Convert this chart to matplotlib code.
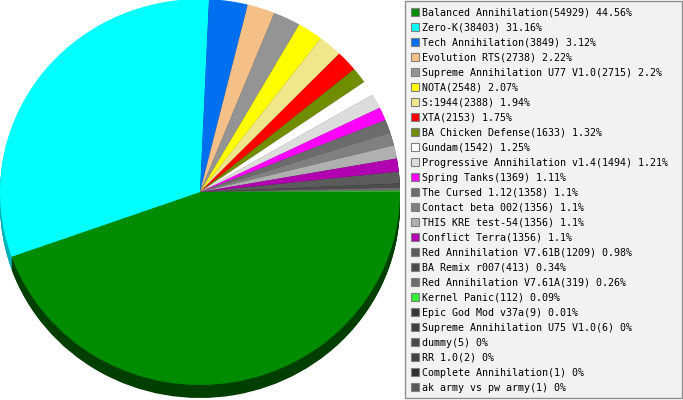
import numpy as np
import matplotlib
matplotlib.use("Agg")
import matplotlib.pyplot as plt
from matplotlib.colors import to_rgb
from matplotlib.patches import Rectangle

# --- data ---
names = [
    "Balanced Annihilation", "Zero-K", "Tech Annihilation", "Evolution RTS",
    "Supreme Annihilation U77 V1.0", "NOTA", "S:1944", "XTA", "BA Chicken Defense",
    "Gundam", "Progressive Annihilation v1.4", "Spring Tanks", "The Cursed 1.12",
    "Contact beta 002", "THIS KRE test-54", "Conflict Terra", "Red Annihilation V7.61B",
    "BA Remix r007", "Red Annihilation V7.61A", "Kernel Panic", "Epic God Mod v37a",
    "Supreme Annihilation U75 V1.0", "dummy", "RR 1.0", "Complete Annihilation",
    "ak army vs pw army",
]
counts = [54929, 38403, 3849, 2738, 2715, 2548, 2388, 2153, 1633, 1542, 1494, 1369,
          1358, 1356, 1356, 1356, 1209, 413, 319, 112, 9, 6, 5, 2, 1, 1]
pct_text = ["44.56", "31.16", "3.12", "2.22", "2.2", "2.07", "1.94", "1.75", "1.32",
            "1.25", "1.21", "1.11", "1.1", "1.1", "1.1", "1.1", "0.98", "0.34", "0.26",
            "0.09", "0.01", "0", "0", "0", "0", "0"]
colors = ["#008c00", "#00ffff", "#0070f0", "#f4c088", "#949494", "#ffff00", "#f0e68c",
          "#ff0000", "#708c00", "#ffffff", "#dcdcdc", "#ff00ff", "#6c6c6c", "#808080",
          "#b0b0b0", "#b000b0", "#5c5c5c", "#4c4c4c", "#6c6c6c", "#30f030", "#383838",
          "#404040", "#484848", "#404040", "#303030", "#585858"]

W, H = 683, 400
fig = plt.figure(figsize=(W / 100, H / 100), dpi=100)
fig.patch.set_facecolor("white")

# pie axes: left 400 px, slightly elliptical pie with a dark extruded side
cx, cy, rx, ry, depth = 200, 192, 200, 193, 13
pax = fig.add_axes([0, 0, 400 / W, 1])
side_colors = [tuple(c * 0.45 for c in to_rgb(col)) for col in colors]
side_colors[1] = (0.0, 0.70, 0.72)  # zero-k side is a lighter teal in the original
for k in range(depth, 0, -1):
    pax.pie(counts, colors=side_colors, startangle=0, counterclock=False,
            radius=1, center=(0, -k / ry), wedgeprops=dict(linewidth=0))
pax.pie(counts, colors=colors, startangle=0, counterclock=False,
        radius=1, center=(0, 0), wedgeprops=dict(linewidth=0))
pax.set_aspect("auto")
pax.set_xlim(-cx / rx, (400 - cx) / rx)
pax.set_ylim(-(H - cy) / ry, cy / ry)
pax.axis("off")

# legend drawn in pixel coordinates
lax = fig.add_axes([0, 0, 1, 1])
lax.set_xlim(0, W)
lax.set_ylim(H, 0)
lax.axis("off")
lax.patch.set_alpha(0)
lax.add_patch(Rectangle((405, 0.5), 276.5, 397.5, facecolor="#f2f2f2",
                        edgecolor="#909090", linewidth=1))
for i, (name, cnt, p, col) in enumerate(zip(names, counts, pct_text, colors)):
    y = 12.2 + 15 * i
    lax.add_patch(Rectangle((410.5, y - 4), 8, 8, facecolor=col,
                            edgecolor="#808080", linewidth=0.8))
    lax.text(422, y + 0.5, f"{name}({cnt}) {p}%", fontsize=7.2,
             family="DejaVu Sans Mono", va="center", ha="left", color="black")

fig.savefig("out.png", dpi=100)
